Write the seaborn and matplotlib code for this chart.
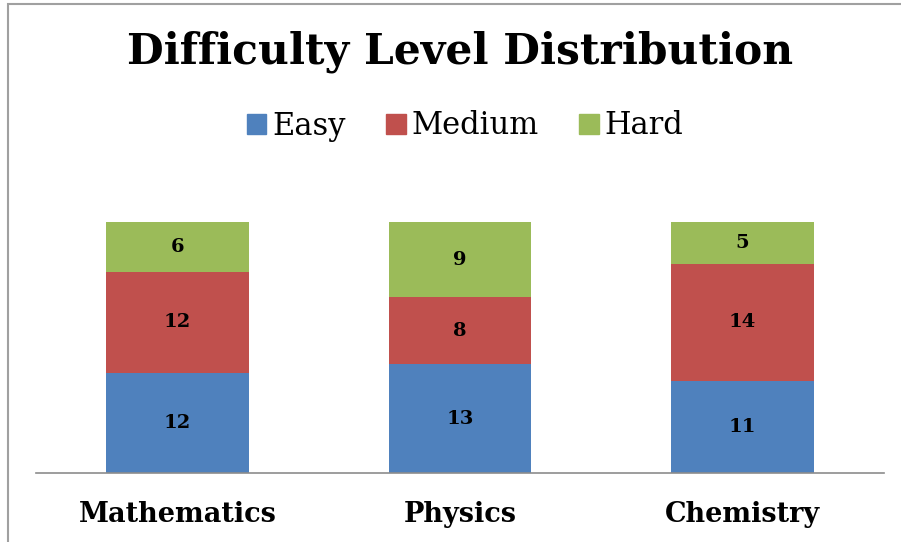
import matplotlib
matplotlib.use("Agg")
import matplotlib.pyplot as plt
import matplotlib.patches as mpatches
import seaborn as sns
import pandas as pd

subjects = ['Mathematics', 'Physics', 'Chemistry']
easy = [12, 13, 11]
medium = [12, 8, 14]
hard = [6, 9, 5]

levels = ['Easy', 'Medium', 'Hard']
colors = {'Easy': '#4F81BD', 'Medium': '#C0504D', 'Hard': '#9BBB59'}

sns.set_theme(style='white')
plt.rcParams['font.family'] = ['DejaVu Serif']
plt.rcParams['text.color'] = 'black'
plt.rcParams['xtick.color'] = 'black'

df = pd.DataFrame({'subject': subjects, 'Easy': easy, 'Medium': medium, 'Hard': hard})
df['em'] = df['Easy'] + df['Medium']
df['total'] = df['em'] + df['Hard']

fig = plt.figure(figsize=(9.01, 5.42), dpi=100)
ax = fig.add_axes([36 / 901, 1 - 473 / 542, 848 / 901, 293 / 542])

# stacked by overdrawing cumulative totals
sns.barplot(data=df, x='subject', y='total', color=colors['Hard'], width=0.505,
            saturation=1, ax=ax, linewidth=0)
sns.barplot(data=df, x='subject', y='em', color=colors['Medium'], width=0.505,
            saturation=1, ax=ax, linewidth=0)
sns.barplot(data=df, x='subject', y='Easy', color=colors['Easy'], width=0.505,
            saturation=1, ax=ax, linewidth=0)

for i, row in df.iterrows():
    ax.text(i, row['Easy'] / 2, str(row['Easy']), ha='center', va='center',
            fontsize=14, fontweight='bold', color='black')
    ax.text(i, row['Easy'] + row['Medium'] / 2, str(row['Medium']), ha='center',
            va='center', fontsize=14, fontweight='bold', color='black')
    ax.text(i, row['em'] + row['Hard'] / 2, str(row['Hard']), ha='center',
            va='center', fontsize=14, fontweight='bold', color='black')

ax.set_ylim(0, 35)
ax.set_xlim(-0.5, 2.5)
ax.set_xlabel('')
ax.set_ylabel('')
ax.set_yticks([])
ax.tick_params(axis='x', length=0, pad=20)
for lab in ax.get_xticklabels():
    lab.set_fontsize(19.5)
    lab.set_fontweight('bold')
    lab.set_color('black')
for s in ['top', 'right', 'left']:
    ax.spines[s].set_visible(False)
ax.spines['bottom'].set_color('#8c8c8c')
ax.spines['bottom'].set_linewidth(1.2)

fig.text(460 / 901, 1 - 52 / 542, 'Difficulty Level Distribution', ha='center', va='center',
         fontsize=30.5, fontweight='bold', color='black')

handles = [mpatches.Patch(color=colors[l], label=l) for l in levels]
fig.legend(handles=handles, loc='center', bbox_to_anchor=(465 / 901, 1 - 126 / 542),
           ncol=3, frameon=False, fontsize=22, handlelength=0.65, handleheight=0.65,
           handletextpad=0.2, columnspacing=1.3, labelcolor='black')

# outer chart border
fig.patches.append(mpatches.Rectangle((8 / 901, -0.01), 1.0, 1 - 4 / 542 + 0.01,
                                      transform=fig.transFigure, fill=False,
                                      edgecolor='#a0a0a0', linewidth=1.5))

fig.savefig('out.png', dpi=100)
